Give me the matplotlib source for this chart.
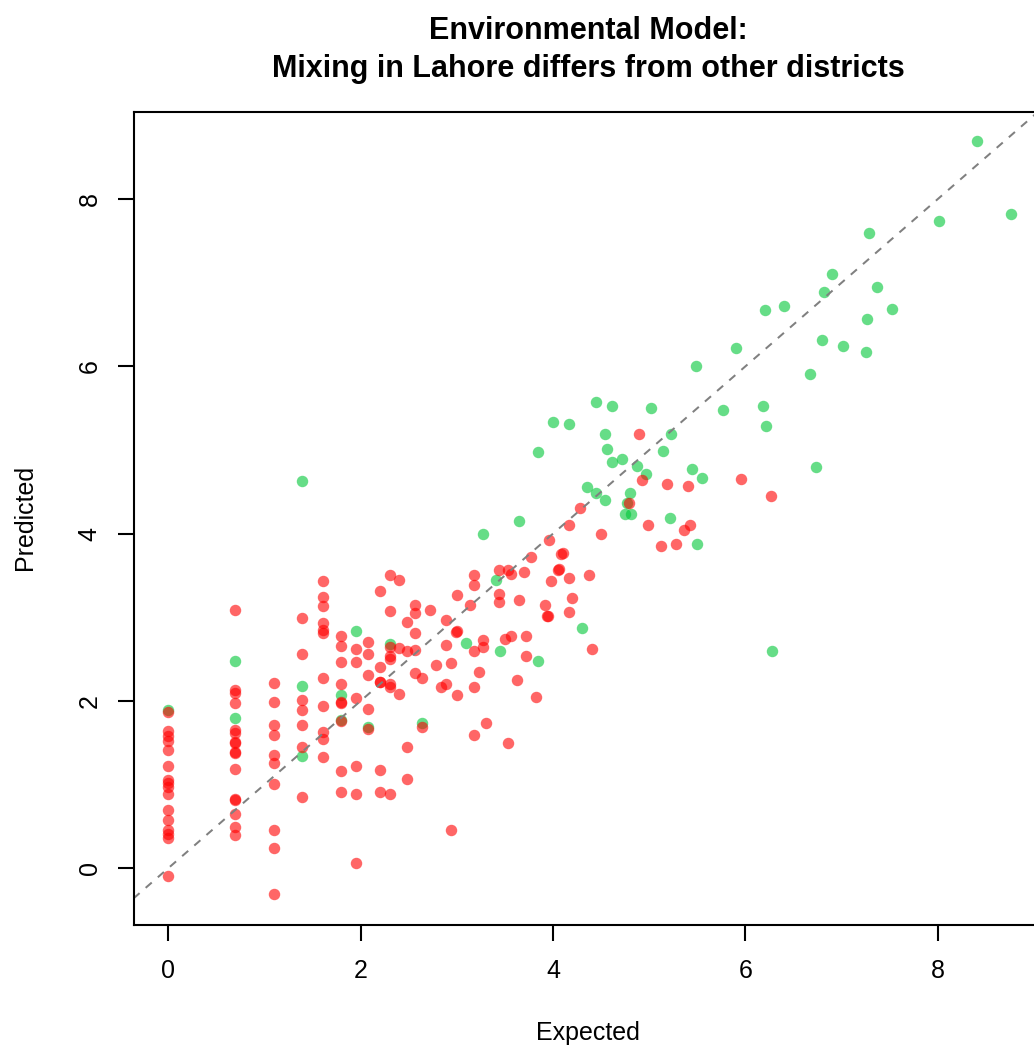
import matplotlib
matplotlib.use("Agg")
import matplotlib.pyplot as plt

# ---------------- data ----------------
red_expected = (
    [0.0] * 16 + [0.693] * 16 + [1.099] * 10 + [1.386] * 7 + [1.609] * 11 +
    [1.792] * 9 + [1.946] * 6 + [2.079] * 5 + [2.197] * 6 + [2.303] * 8 +
    [2.398] * 3 + [2.485] * 4 + [2.565] * 5 + [2.639] * 2 +
    [2.72, 2.78, 2.83, 2.89, 2.89, 2.89, 2.94, 2.94, 3.00, 3.00, 2.99, 3.00, 3.14,
     3.96, 3.77, 4.08, 4.10, 4.06, 4.05, 3.98, 3.92, 3.95, 3.94, 3.44, 3.53, 3.56,
     3.70, 3.18, 3.18, 3.44, 3.44, 3.65, 3.27, 3.27, 3.18, 3.50, 3.56, 3.72, 3.72,
     3.18, 3.23, 3.62, 3.82, 3.30, 3.18, 3.53,
     4.89, 4.93, 5.18, 5.40, 5.95, 4.79, 4.28, 4.17, 4.50, 4.99, 5.36, 5.42, 5.12,
     5.28, 4.17, 4.37, 4.20, 4.17, 4.40, 6.27]
)
red_predicted = [
    1.87, 1.64, 1.58, 1.52, 1.41, 1.22, 1.05, 1.02, 0.97, 0.89, 0.69, 0.57, 0.46, 0.41, 0.36, -0.10,
    3.09, 2.13, 2.09, 1.97, 1.65, 1.62, 1.51, 1.49, 1.39, 1.37, 1.18, 0.83, 0.81, 0.65, 0.49, 0.39,
    2.21, 1.98, 1.71, 1.59, 1.35, 1.26, 1.01, 0.45, 0.24, -0.31,
    2.99, 2.56, 2.01, 1.89, 1.71, 1.45, 0.85,
    3.43, 3.24, 3.13, 2.93, 2.85, 2.81, 2.27, 1.94, 1.63, 1.54, 1.33,
    2.78, 2.66, 2.46, 2.20, 1.98, 1.97, 1.76, 1.16, 0.91,
    2.62, 2.46, 2.03, 1.22, 0.89, 0.06,
    2.70, 2.56, 2.31, 1.90, 1.66,
    3.31, 2.40, 2.22, 2.23, 1.17, 0.91,
    3.50, 3.08, 2.64, 2.53, 2.50, 2.20, 2.16, 0.89,
    3.45, 2.63, 2.08,
    2.94, 2.59, 1.45, 1.06,
    3.15, 3.05, 2.81, 2.61, 2.33,
    2.27, 1.69,
    3.09, 2.43, 2.17, 2.97, 2.67, 2.20, 2.45, 0.46, 3.27, 2.83, 2.82, 2.07, 3.15,
    3.92, 3.72, 3.75, 3.77, 3.58, 3.57, 3.43, 3.15, 3.01, 3.02, 3.56, 3.56, 3.52,
    3.54, 3.51, 3.38, 3.28, 3.18, 3.20, 2.73, 2.64, 2.60, 2.74, 2.78, 2.78, 2.54,
    2.17, 2.34, 2.25, 2.04, 1.74, 1.59, 1.49,
    5.19, 4.64, 4.59, 4.57, 4.65, 4.36, 4.31, 4.10, 4.00, 4.10, 4.04, 4.10, 3.85,
    3.88, 3.47, 3.51, 3.23, 3.06, 2.62, 4.45,
]

green_expected = [
    0.0, 0.693, 0.693, 1.386, 1.386, 1.386, 1.792, 1.792, 1.946, 2.079, 2.303, 2.639, 3.09,
    3.84, 3.65, 3.27, 3.41, 3.45, 3.84, 4.00,
    4.45, 4.61, 5.02, 5.77, 4.17, 4.54, 5.23, 4.56, 5.14, 4.61, 4.72, 4.87, 4.97,
    5.45, 5.55, 4.35, 4.45, 4.54, 4.80, 4.77, 4.75, 4.81, 5.22, 5.50, 4.30,
    8.41, 8.76, 8.01, 7.29, 6.90, 6.82, 7.37, 6.40, 6.20, 7.53, 7.27, 6.80, 7.02,
    7.25, 5.90, 6.67, 6.18, 6.21, 6.73, 5.49, 6.28,
]
green_predicted = [
    1.89, 2.48, 1.80, 4.63, 2.18, 1.34, 2.07, 1.77, 2.84, 1.69, 2.68, 1.74, 2.69,
    4.98, 4.15, 3.99, 3.45, 2.60, 2.47, 5.34,
    5.58, 5.53, 5.50, 5.48, 5.31, 5.19, 5.19, 5.01, 4.99, 4.86, 4.89, 4.81, 4.71,
    4.77, 4.67, 4.56, 4.48, 4.40, 4.49, 4.37, 4.23, 4.24, 4.19, 3.87, 2.87,
    8.70, 7.82, 7.74, 7.59, 7.11, 6.89, 6.95, 6.72, 6.67, 6.69, 6.57, 6.31, 6.24,
    6.17, 6.22, 5.91, 5.53, 5.29, 4.80, 6.00, 2.60,
]

x_ticks = [0, 2, 4, 6, 8]
y_ticks = [0, 2, 4, 6, 8]
title_text = "Environmental Model:\nMixing in Lahore differs from other districts"
x_label = "Expected"
y_label = "Predicted"

# ---------------- figure ----------------
plt.rcParams["font.family"] = ["Liberation Sans", "DejaVu Sans"]

W, H = 1034, 1047
fig = plt.figure(figsize=(W / 100, H / 100), dpi=100)
left_px, right_px, top_px, bottom_px = 133.5, 1043, 112, 925
ax = fig.add_axes([left_px / W, 1 - bottom_px / H,
                   (right_px - left_px) / W, (bottom_px - top_px) / H])

green_col = (0.0, 0.78, 0.22, 0.6)
red_col = (1.0, 0.0, 0.0, 0.6)

ax.scatter(green_expected, green_predicted, s=68, color=green_col, linewidths=0, zorder=2)
ax.scatter(red_expected, red_predicted, s=68, color=red_col, linewidths=0, zorder=3)
ax.axline((0, 0), slope=1, color="#808080", lw=1.45, linestyle=(0, (4, 4)), zorder=4)

ax.set_xlim(-0.364, 9.096)
ax.set_ylim(-0.682, 9.043)
ax.set_xticks(x_ticks)
ax.set_yticks(y_ticks)
ax.set_xticklabels([str(t) for t in x_ticks])
ax.set_yticklabels([str(t) for t in y_ticks], rotation=90, va="center")

for sp in ax.spines.values():
    sp.set_linewidth(1.5)
    sp.set_zorder(5)
ax.tick_params(axis="both", direction="out", length=11.5, width=1.5, labelsize=18, color="black")
ax.tick_params(axis="x", pad=13)
ax.tick_params(axis="y", pad=11.5)

cx = (left_px + right_px) / 2 / W
fig.text(cx, 1 - 1033 / H, x_label, ha="center", va="center", fontsize=18)
fig.text(25 / W, 1 - 517 / H, y_label, ha="center", va="center", rotation=90, fontsize=18)
ax.set_title(title_text, fontsize=22, fontweight="bold", pad=25, linespacing=1.35)

fig.savefig("out.png", dpi=100)
